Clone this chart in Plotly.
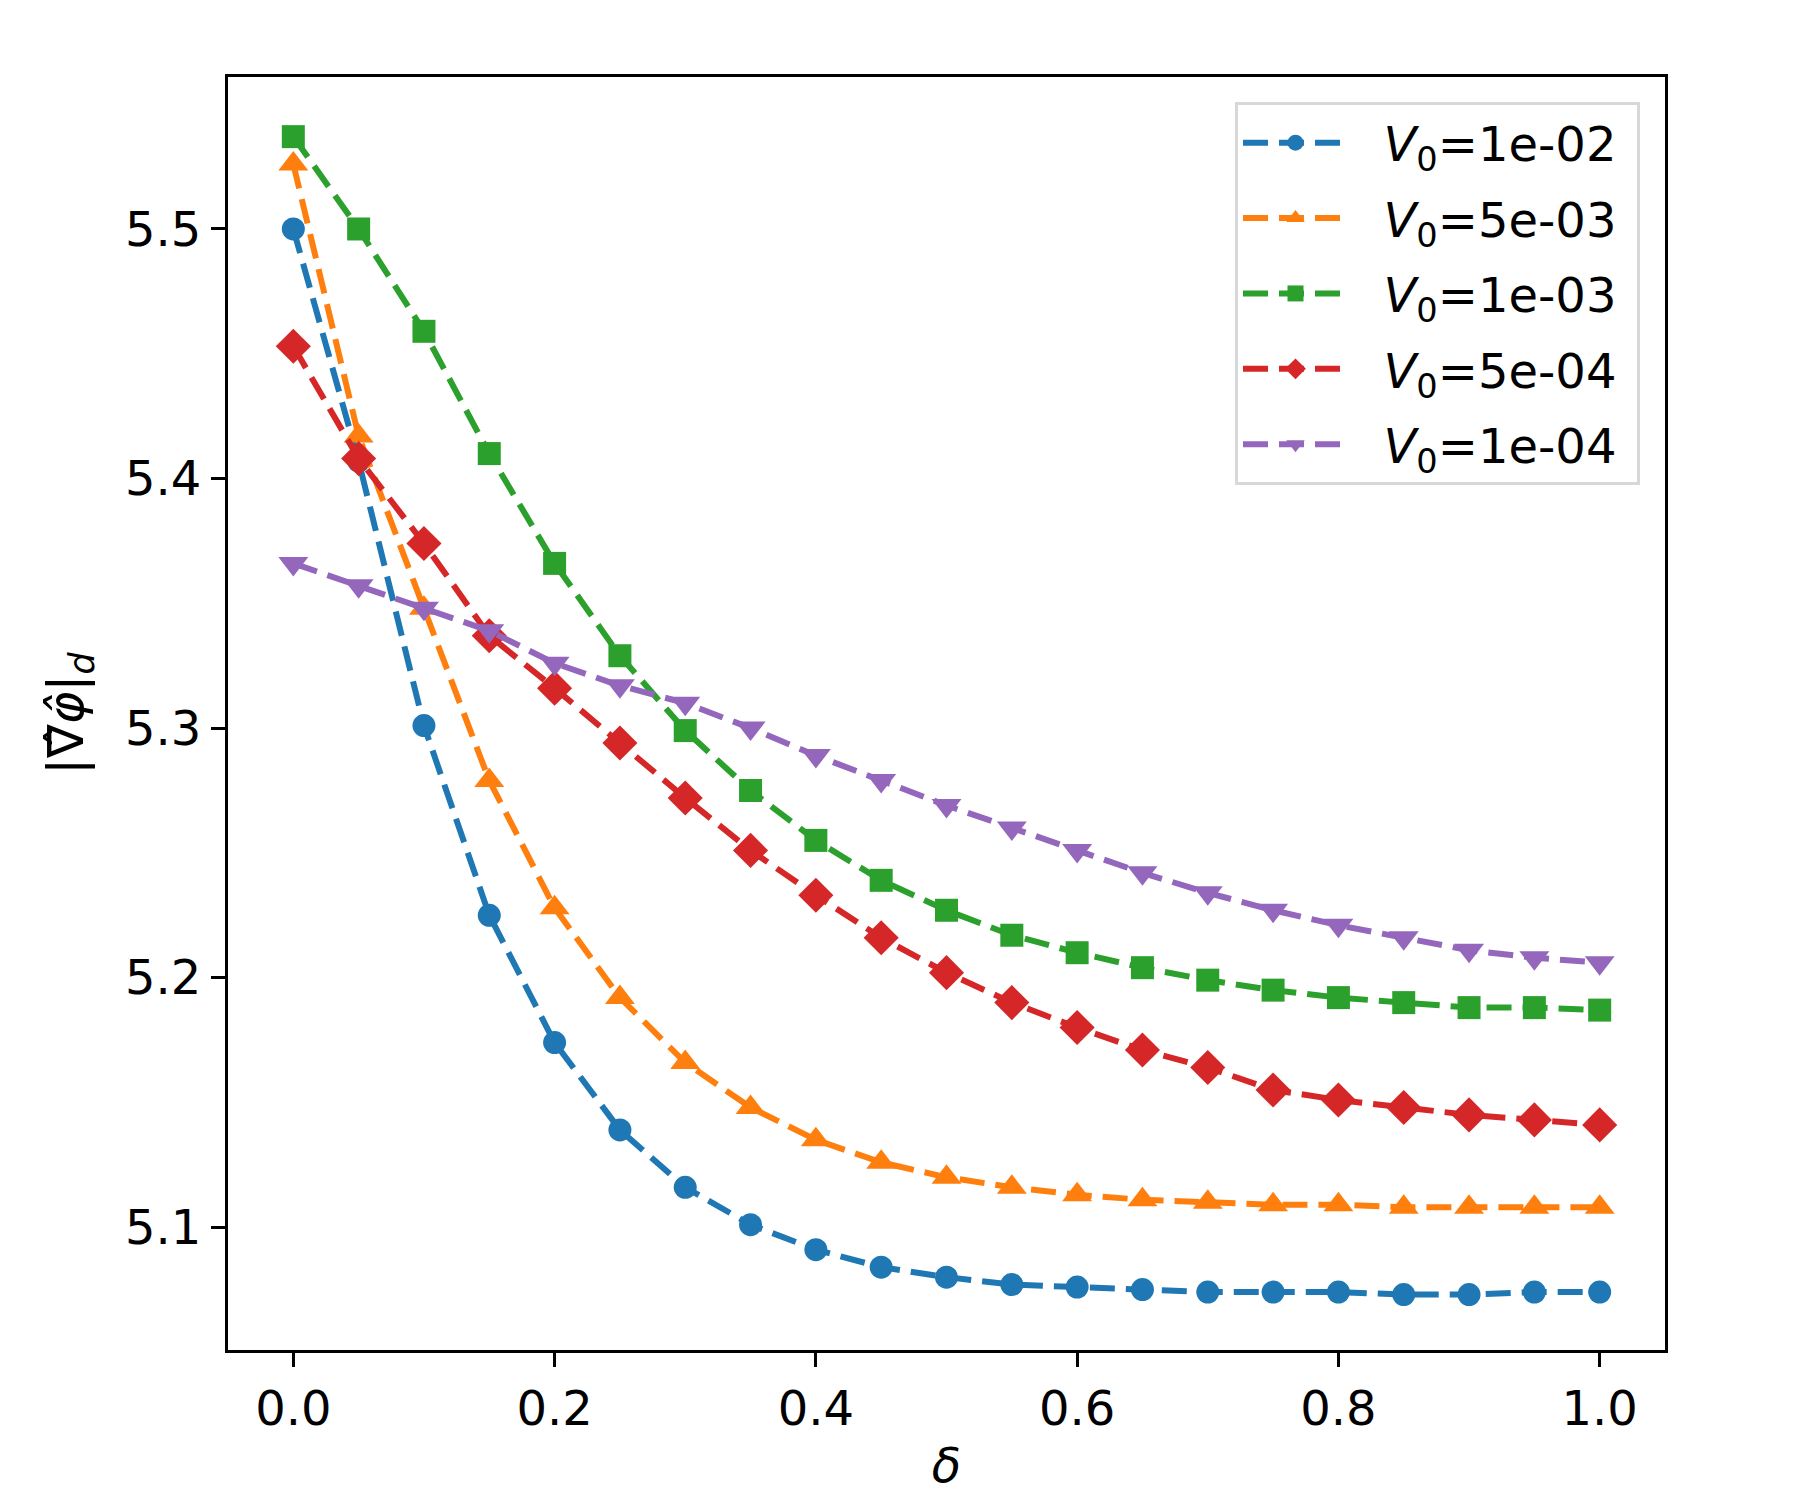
import plotly.graph_objects as go

delta = [0.0, 0.05, 0.1, 0.15, 0.2, 0.25, 0.3, 0.35, 0.4, 0.45, 0.5,
         0.55, 0.6, 0.65, 0.7, 0.75, 0.8, 0.85, 0.9, 0.95, 1.0]

v0_1e02 = [5.500, 5.407, 5.301, 5.225, 5.174, 5.139, 5.116, 5.101, 5.091, 5.084, 5.080,
           5.077, 5.076, 5.075, 5.074, 5.074, 5.074, 5.073, 5.073, 5.074, 5.074]
v0_5e03 = [5.526, 5.417, 5.348, 5.279, 5.228, 5.192, 5.166, 5.148, 5.135, 5.126, 5.120,
           5.116, 5.113, 5.111, 5.110, 5.109, 5.109, 5.108, 5.108, 5.108, 5.108]
v0_1e03 = [5.537, 5.500, 5.459, 5.410, 5.366, 5.329, 5.299, 5.275, 5.255, 5.239, 5.227,
           5.217, 5.210, 5.204, 5.199, 5.195, 5.192, 5.190, 5.188, 5.188, 5.187]
v0_5e04 = [5.453, 5.408, 5.374, 5.337, 5.316, 5.294, 5.272, 5.251, 5.233, 5.216, 5.202,
           5.190, 5.180, 5.171, 5.164, 5.155, 5.151, 5.148, 5.145, 5.143, 5.141]
v0_1e04 = [5.366, 5.357, 5.348, 5.339, 5.326, 5.317, 5.310, 5.300, 5.289, 5.279, 5.269,
           5.260, 5.251, 5.242, 5.234, 5.227, 5.221, 5.216, 5.211, 5.208, 5.206]

labels = ["1e-02", "5e-03", "1e-03", "5e-04", "1e-04"]
series = [v0_1e02, v0_5e03, v0_1e03, v0_5e04, v0_1e04]
colors = ["#1f77b4", "#ff7f0e", "#2ca02c", "#d62728", "#9467bd"]
symbols = ["circle", "triangle-up", "square", "diamond", "triangle-down"]
sizes = [23, 26, 23, 27, 26]

fig = go.Figure()
for lab, ys, col, sym, sz in zip(labels, series, colors, symbols, sizes):
    fig.add_trace(
        go.Scatter(
            x=delta,
            y=ys,
            mode="lines+markers",
            name="&nbsp;&nbsp;<i>V</i><sub>0</sub>=" + lab + "&nbsp;",
            legendgroup=lab,
            line=dict(color=col, width=6, dash="25px,11px"),
            marker=dict(symbol=sym, size=sz, color=col, line=dict(width=0)),
        )
    )

axis_style = dict(
    showline=True, mirror=True, linecolor="black", linewidth=3,
    ticks="outside", ticklen=14, tickwidth=3, tickcolor="black",
    showgrid=False, zeroline=False,
    tickfont=dict(family="DejaVu Sans", size=48, color="black"),
)

# the page body adds an 8px offset, so margins are shifted by that much
fig.update_layout(
    width=1800, height=1500,
    margin=dict(l=220, r=143, t=69, b=158),
    plot_bgcolor="white", paper_bgcolor="white",
    font=dict(family="DejaVu Sans", size=48, color="black"),
    xaxis=dict(range=[-0.05, 1.05], tickvals=[0, 0.2, 0.4, 0.6, 0.8, 1.0], tickformat=".1f",
               title=dict(text="<i>δ</i>", standoff=14, font=dict(size=48)), **axis_style),
    yaxis=dict(range=[5.0508, 5.5609], tickvals=[5.1, 5.2, 5.3, 5.4, 5.5], tickformat=".1f",
               title=dict(text="|∇̂<i>φ̂</i>|<sub><i>d</i></sub>", standoff=26, font=dict(size=50)),
               **axis_style),
    legend=dict(
        x=0.9826, y=0.9804, xanchor="right", yanchor="top",
        bordercolor="#d8d8d8", borderwidth=3, bgcolor="white",
        font=dict(family="DejaVu Sans", size=48, color="black"),
        itemwidth=105, tracegroupgap=10,
    ),
)

fig.write_html("out.html")
